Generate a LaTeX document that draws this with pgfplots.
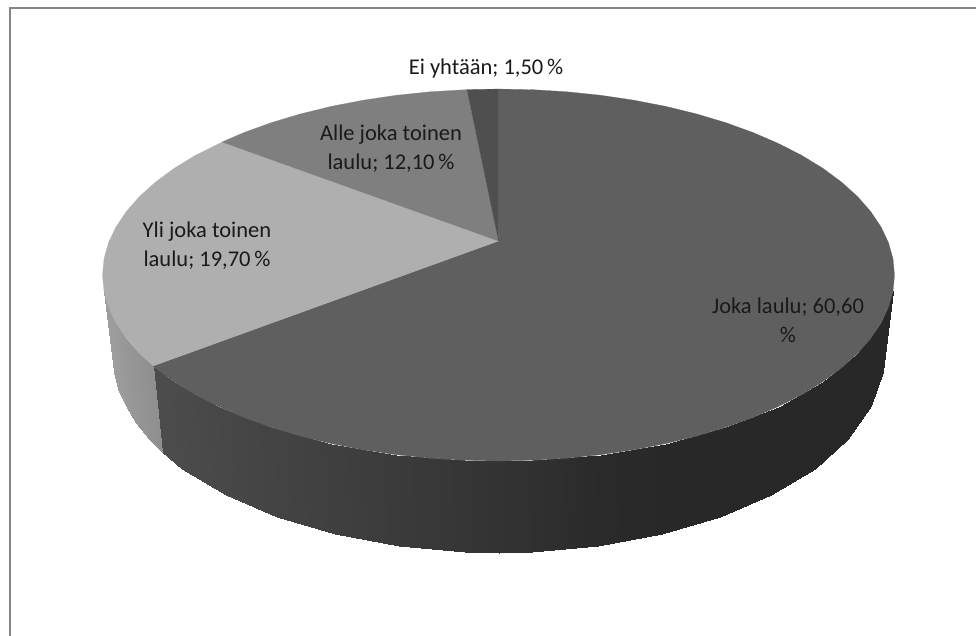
\documentclass[border=0pt]{standalone}
\usepackage{pgfplots}
\pgfplotsset{compat=1.18}
\usepackage{fontspec}
\setmainfont{Carlito}
\definecolor{topJ}{HTML}{5F5F5F}
\definecolor{topY}{HTML}{AFAFAF}
\definecolor{topA}{HTML}{7F7F7F}
\definecolor{topE}{HTML}{4F4F4F}
\definecolor{bord}{HTML}{868686}
\definecolor{txt}{HTML}{1A1A1A}
\tikzset{lbl/.style={font=\fontsize{22.5pt}{29pt}\selectfont, text=txt, align=center, anchor=center, inner sep=0pt}}
\begin{document}
\begin{tikzpicture}
\begin{axis}[
  scale only axis, width=976pt, height=635pt,
  xmin=0, xmax=976, ymin=0, ymax=635, y dir=reverse,
  axis lines=none, clip=true,
  colormap={g}{gray(0cm)=(0); gray(1cm)=(1)},
  point meta min=0, point meta max=1,
]
\path (axis cs:0,0) rectangle (axis cs:976,635);
% frame
\addplot[draw=bord, line width=2pt] coordinates {(10,636) (10,8) (977,8)};
% side of Joka laulu
\addplot[surf, shader=interp, mesh/rows=2, mesh/ordering=y varies, point meta=explicit] table[meta=c] {
x y c
893.0 291.2 .155
883.0 372.3 .155
881.0 323.1 .155
871.3 406.2 .155
857.4 353.6 .155
848.3 438.7 .155
822.9 381.7 .155
814.7 468.6 .155
778.5 406.5 .155
771.4 495.0 .155
725.6 427.4 .155
719.9 517.2 .155
665.9 443.6 .158
661.6 534.4 .158
601.0 454.7 .165
598.4 546.3 .165
533.0 460.3 .19
532.1 552.2 .19
498.5 461.0 .20
498.5 553.0 .20
464.0 460.3 .21
464.9 552.2 .21
396.0 454.7 .23
398.6 546.3 .23
331.1 443.6 .25
335.4 534.4 .25
271.4 427.4 .265
277.1 517.2 .265
218.5 406.5 .28
225.6 495.0 .28
174.1 381.7 .295
182.3 468.6 .295
153.0 366.0 .30
162.0 452.0 .30
};
\addplot[surf, shader=interp, mesh/rows=2, mesh/ordering=y varies, point meta=explicit] table[meta=c] {
x y c
153.0 366.0 .56
162.0 452.0 .56
139.6 353.6 .575
148.7 438.7 .575
126.4 338.6 .59
135.8 422.7 .59
116.0 323.1 .605
125.7 406.2 .605
108.5 307.3 .615
118.4 389.4 .615
104.0 291.2 .62
114.0 372.3 .62
};
\addplot[fill=topJ, draw=topJ, line width=0.2pt] coordinates {
(498.5,241) (498.5,89) (533.0,89.7) (567.2,91.8) (601.0,95.3) (633.9,100.2) (665.9,106.4) (696.5,113.9)
(725.6,122.6) (753.0,132.5) (778.5,143.5) (801.8,155.4) (822.9,168.3) (841.4,182.0) (857.4,196.4)
(870.6,211.4) (881.0,226.9) (888.5,242.7) (893.0,258.8) (894.5,275.0) (893.0,291.2) (888.5,307.3)
(881.0,323.1) (870.6,338.6) (857.4,353.6) (841.4,368.0) (822.9,381.7) (801.8,394.6) (778.5,406.5)
(753.0,417.5) (725.6,427.4) (696.5,436.1) (665.9,443.6) (633.9,449.8) (601.0,454.7) (567.2,458.2)
(533.0,460.3) (498.5,461) (464.0,460.3) (429.8,458.2) (396.0,454.7) (363.1,449.8) (331.1,443.6)
(300.5,436.1) (271.4,427.4) (244.0,417.5) (218.5,406.5) (195.2,394.6) (174.1,381.7) (155.6,368.0)
(153.0,366.0)} -- cycle;
\addplot[fill=topY, draw=topY, line width=0.2pt] coordinates {
(498.5,241) (153.0,366.0) (139.6,353.6) (126.4,338.6) (116.0,323.1) (108.5,307.3) (104.0,291.2)
(102.5,275.0) (104.0,258.8) (108.5,242.7) (116.0,226.9) (126.4,211.4) (139.6,196.4) (155.6,182.0)
(174.1,168.3) (195.2,155.4) (222.0,142.0)} -- cycle;
\addplot[fill=topA, draw=topA, line width=0.2pt] coordinates {
(498.5,241) (222.0,142.0) (244.0,132.5) (271.4,122.6) (300.5,113.9) (331.1,106.4) (363.1,100.2)
(396.0,95.3) (429.8,91.8) (467.0,89.6)} -- cycle;
\addplot[fill=topE, draw=topE, line width=0.2pt] coordinates {
(498.5,241) (467.0,89.6) (498.5,89)} -- cycle;
\node[lbl] at (axis cs:486,68) {Ei yhtään; 1,50\,\%};
\node[lbl] at (axis cs:391,148.5) {Alle joka toinen\\laulu; 12,10\,\%};
\node[lbl] at (axis cs:207,245.5) {Yli joka toinen\\laulu; 19,70\,\%};
\node[lbl] at (axis cs:788,320) {Joka laulu; 60,60\\\%};
\end{axis}
\end{tikzpicture}
\end{document}
